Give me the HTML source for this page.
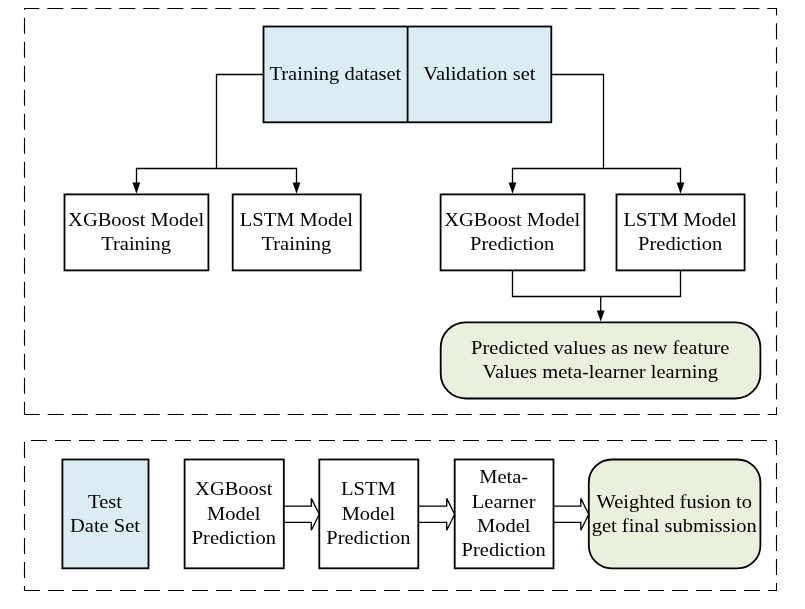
<!DOCTYPE html>
<html>
<head>
<meta charset="utf-8">
<style>
html,body{margin:0;padding:0;background:#fff;}
body{width:805px;height:609px;overflow:hidden;}
svg{display:block;will-change:transform;}
text{font-family:"Liberation Serif",serif;font-size:20px;fill:#000;}
</style>
</head>
<body>
<svg width="805" height="609" viewBox="0 0 805 609">
<path d="M24.5 414.5 V8.5 H776.5 V414.5 H24.5" fill="none" stroke="#000" stroke-width="1.1" stroke-dasharray="16 8" stroke-dashoffset="3.2"/>
<path d="M24.5 590.5 V440.5 H776.5 V590.5 H24.5" fill="none" stroke="#000" stroke-width="1.1" stroke-dasharray="16 8" stroke-dashoffset="11.5"/>
<g fill="none" stroke="#000" stroke-width="1.3"><path d="M263.5 74.5 H216.5 V168.5"/><path d="M136.5 184 V168.5 H296.5 V184"/><path d="M551.3 74.5 H603.5 V168.5"/><path d="M512.5 184 V168.5 H680.5 V184"/><path d="M512.5 270.2 V296.5 H680.5 V270.2"/><path d="M600.7 296.5 V312"/></g>
<g fill="#000" stroke="none"><path d="M132.50 182.5 H140.30 L136.4 193.7 Z"/><path d="M292.60 182.5 H300.40 L296.5 193.7 Z"/><path d="M508.60 182.5 H516.40 L512.5 193.7 Z"/><path d="M676.60 182.5 H684.40 L680.5 193.7 Z"/><path d="M596.80 310.6 H604.60 L600.7 321.6 Z"/></g>
<rect x="263.5" y="26.5" width="287.80" height="95.80" fill="#DAEDF3" stroke="#000" stroke-width="1.8"/>
<line x1="407.6" y1="26.5" x2="407.6" y2="122.3" stroke="#000" stroke-width="1.8"/>
<rect x="64.5" y="194.4" width="143.90" height="76.00" fill="#fff" stroke="#000" stroke-width="1.8"/>
<rect x="232.7" y="194.4" width="128.00" height="76.00" fill="#fff" stroke="#000" stroke-width="1.8"/>
<rect x="440.6" y="194.4" width="143.90" height="76.00" fill="#fff" stroke="#000" stroke-width="1.8"/>
<rect x="616.5" y="194.4" width="128.10" height="76.00" fill="#fff" stroke="#000" stroke-width="1.8"/>
<rect x="440.7" y="322.3" width="319.70" height="76.20" rx="25" ry="25" fill="#E9F0DD" stroke="#000" stroke-width="1.8"/>
<rect x="62.4" y="459.5" width="86.10" height="108.80" fill="#DAEDF3" stroke="#000" stroke-width="1.8"/>
<rect x="184.6" y="459.5" width="99.20" height="108.80" fill="#fff" stroke="#000" stroke-width="1.8"/>
<rect x="319.3" y="459.5" width="99.00" height="108.80" fill="#fff" stroke="#000" stroke-width="1.8"/>
<rect x="454.7" y="459.5" width="98.80" height="108.80" fill="#fff" stroke="#000" stroke-width="1.8"/>
<rect x="588.8" y="459.5" width="171.60" height="108.90" rx="23" ry="23" fill="#E9F0DD" stroke="#000" stroke-width="1.8"/>
<g fill="none" stroke="#000" stroke-width="1.3" stroke-linejoin="miter"><path d="M283.8 506.2 H311.3 V498.4 L319.3 514.3 L311.3 530.2 V522.4 H283.8"/><path d="M418.3 506.2 H446.7 V498.4 L454.7 514.3 L446.7 530.2 V522.4 H418.3"/><path d="M553.5 506.2 H580.8 V498.4 L588.8 514.3 L580.8 530.2 V522.4 H553.5"/></g>
<text transform="translate(335.4 80) scale(1.025 0.95)" text-anchor="middle">Training dataset</text>
<text transform="translate(479.4 80) scale(1.025 0.95)" text-anchor="middle">Validation set</text>
<text transform="translate(136.1 226) scale(1.025 0.95)" text-anchor="middle">XGBoost Model</text>
<text transform="translate(136.1 250) scale(1.025 0.95)" text-anchor="middle">Training</text>
<text transform="translate(296.4 226) scale(1.025 0.95)" text-anchor="middle">LSTM Model</text>
<text transform="translate(296.4 250) scale(1.025 0.95)" text-anchor="middle">Training</text>
<text transform="translate(512.2 226) scale(1.025 0.95)" text-anchor="middle">XGBoost Model</text>
<text transform="translate(512.2 250) scale(1.025 0.95)" text-anchor="middle">Prediction</text>
<text transform="translate(680.2 226) scale(1.025 0.95)" text-anchor="middle">LSTM Model</text>
<text transform="translate(680.2 250) scale(1.025 0.95)" text-anchor="middle">Prediction</text>
<text transform="translate(600.2 354) scale(1.025 0.95)" text-anchor="middle">Predicted values as new feature</text>
<text transform="translate(600.2 378) scale(1.025 0.95)" text-anchor="middle">Values meta-learner learning</text>
<text transform="translate(105.0 508) scale(1.025 0.95)" text-anchor="middle">Test</text>
<text transform="translate(105.0 532) scale(1.025 0.95)" text-anchor="middle">Date Set</text>
<text transform="translate(233.8 495) scale(1.025 0.95)" text-anchor="middle">XGBoost</text>
<text transform="translate(233.8 520) scale(1.025 0.95)" text-anchor="middle">Model</text>
<text transform="translate(233.8 544) scale(1.025 0.95)" text-anchor="middle">Prediction</text>
<text transform="translate(368.4 495) scale(1.025 0.95)" text-anchor="middle">LSTM</text>
<text transform="translate(368.4 520) scale(1.025 0.95)" text-anchor="middle">Model</text>
<text transform="translate(368.4 544) scale(1.025 0.95)" text-anchor="middle">Prediction</text>
<text transform="translate(503.7 483) scale(1.025 0.95)" text-anchor="middle">Meta-</text>
<text transform="translate(503.7 508) scale(1.025 0.95)" text-anchor="middle">Learner</text>
<text transform="translate(503.7 532) scale(1.025 0.95)" text-anchor="middle">Model</text>
<text transform="translate(503.7 556) scale(1.025 0.95)" text-anchor="middle">Prediction</text>
<text transform="translate(674.2 508) scale(1.025 0.95)" text-anchor="middle">Weighted fusion to</text>
<text transform="translate(674.2 532) scale(1.025 0.95)" text-anchor="middle">get final submission</text>
</svg>
</body>
</html>
